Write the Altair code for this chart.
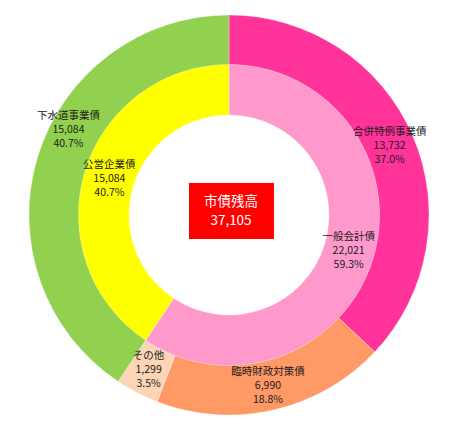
import altair as alt
import pandas as pd

# Outer ring
outer_names = ["合併特例事業債", "臨時財政対策債", "その他", "下水道事業債"]
outer_values = [13732, 6990, 1299, 15084]
outer_pcts = ["37.0%", "18.8%", "3.5%", "40.7%"]
outer_colors = ["#FF3399", "#FF9966", "#FBD5B5", "#92D050"]

# Inner ring
inner_names = ["一般会計債", "公営企業債"]
inner_values = [22021, 15084]
inner_pcts = ["59.3%", "40.7%"]
inner_colors = ["#FF99CC", "#FFFF00"]

center_title = "市債残高"
center_value = "37,105"

def make_df(names, values, pcts):
    return pd.DataFrame({
        "name": names,
        "value": values,
        "idx": list(range(len(names))),
        "label": [f"{n}\n{v:,}\n{p}" for n, v, p in zip(names, values, pcts)],
    })

outer_df = make_df(outer_names, outer_values, outer_pcts)
inner_df = make_df(inner_names, inner_values, inner_pcts)

color_scale = alt.Scale(domain=outer_names + inner_names, range=outer_colors + inner_colors)
FONT = "Noto Sans CJK JP"
TXT = "#1a1a1a"
FS = 10.5

def ring(df, r_out, r_in):
    return alt.Chart(df).mark_arc(outerRadius=r_out, innerRadius=r_in, stroke="white", strokeWidth=0.3).encode(
        theta=alt.Theta("value:Q", stack=True),
        order=alt.Order("idx:Q"),
        color=alt.Color("name:N", scale=color_scale, legend=None),
    )

def labels(df, r, dy=-14, dx=0):
    return alt.Chart(df).mark_text(radius=r, lineBreak="\n", fontSize=FS, lineHeight=14,
                                   font=FONT, color=TXT, dy=dy, dx=dx).encode(
        theta=alt.Theta("value:Q", stack=True),
        order=alt.Order("idx:Q"),
        text="label:N",
    )

outer_ring = ring(outer_df, 200, 150)
inner_ring = ring(inner_df, 150.5, 100)

outer_main = alt.Chart(outer_df).mark_text(radius=175, lineBreak="\n", fontSize=FS, lineHeight=14,
                                           font=FONT, color=TXT, dy=-14).encode(
    theta=alt.Theta("value:Q", stack=True),
    order=alt.Order("idx:Q"),
    text=alt.condition(alt.datum.name != "下水道事業債", "label:N", alt.value("")),
)
# 下水道事業債 label sits higher than its mid-angle in the reference
outer_sewer = alt.Chart(outer_df).mark_text(radius=175, lineBreak="\n", fontSize=FS, lineHeight=14,
                                            font=FONT, color=TXT, dy=-48, dx=7).encode(
    theta=alt.Theta("value:Q", stack=True),
    order=alt.Order("idx:Q"),
    text=alt.condition(alt.datum.name == "下水道事業債", "label:N", alt.value("")),
)
inner_lab = labels(inner_df, 125)

center_df = pd.DataFrame({"t": [center_title + "\n" + center_value]})
box = alt.Chart(center_df).mark_rect(color="#FF0000").encode(
    x=alt.value(181), x2=alt.value(266), y=alt.value(175), y2=alt.value(231)
)
center_text = alt.Chart(center_df).mark_text(lineBreak="\n", fontSize=13.5, lineHeight=19,
                                             font=FONT, color="white").encode(
    x=alt.value(223), y=alt.value(194), text="t:N"
)

chart = alt.layer(
    outer_ring, inner_ring, outer_main, outer_sewer, inner_lab, box, center_text
).properties(
    width=442, height=414, padding=0
).configure_view(stroke=None)

chart.save("out.html", embed_options={"renderer": "svg", "actions": False})
